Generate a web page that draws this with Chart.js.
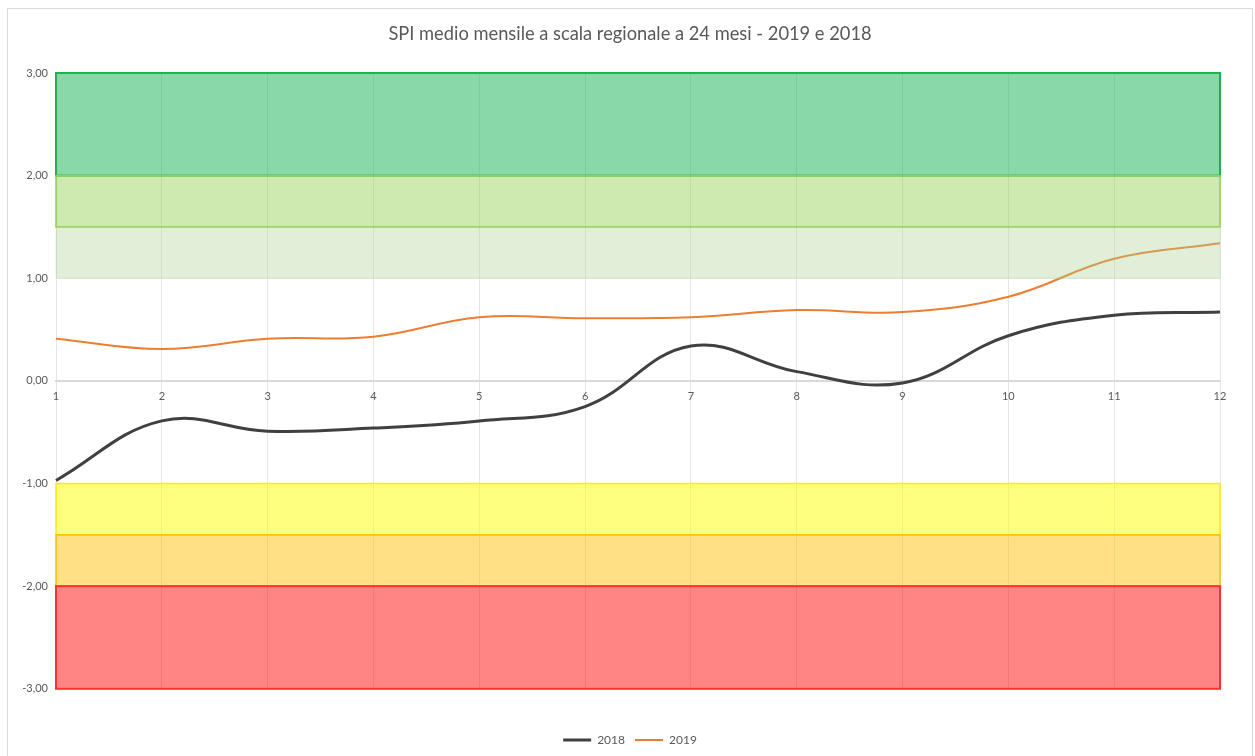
<!DOCTYPE html>
<html>
<head>
<meta charset="utf-8">
<script src="https://cdn.jsdelivr.net/npm/chart.js@4.4.0/dist/chart.umd.min.js"></script>
<style>
    body { margin: 0; background: #fff; }
    #quadro { position: absolute; left: 7px; top: 8px; width: 1244px; height: 760px; border: 1px solid #d9d9d9; }
    canvas { display: block; }
</style>
</head>
<body>
<div id="quadro"><canvas id="grafico-spi" width="1244" height="747"></canvas></div>
<script>
const mesi = ['1', '2', '3', '4', '5', '6', '7', '8', '9', '10', '11', '12'];
const spi2018 = [-0.97, -0.39, -0.49, -0.46, -0.39, -0.25, 0.34, 0.09, -0.02, 0.44, 0.64, 0.67];
const spi2019 = [0.41, 0.31, 0.41, 0.43, 0.62, 0.61, 0.62, 0.69, 0.67, 0.82, 1.19, 1.34];
const tickY = [-3, -2, -1, 0, 1, 2, 3];

// fasce di severità (da / a)
const fasceDa = [2, 1.5, 1, -1.5, -2, -3];
const fasceA = [3, 2, 1.5, -1, -1.5, -2];
const fasceColori = ['rgba(17,178,83,0.5)', 'rgba(146,208,80,0.45)', 'rgba(169,208,142,0.35)',
    'rgba(255,255,0,0.5)', 'rgba(255,192,0,0.48)', 'rgba(255,0,0,0.48)'];
const fasceBordi = ['#22b04e', '#92d050', 'rgba(169,208,142,0.3)', '#ffee00', '#ffc000', '#ff3030'];
const fasceSpessori = [2, 1.5, 1, 1.5, 1.5, 2];

const pluginFasce = {
    id: 'fasce',
    afterDatasetsDraw(chart) {
        const ctx = chart.ctx;
        const x = chart.scales.x;
        const y = chart.scales.y;
        const sx = x.getPixelForValue(0);
        const dx = x.getPixelForValue(mesi.length - 1);
        ctx.save();
        fasceDa.forEach((da, i) => {
            const top = y.getPixelForValue(fasceA[i]);
            const bot = y.getPixelForValue(da);
            ctx.fillStyle = fasceColori[i];
            ctx.fillRect(sx, top, dx - sx, bot - top);
            ctx.strokeStyle = fasceBordi[i];
            ctx.lineWidth = fasceSpessori[i];
            ctx.strokeRect(sx, top, dx - sx, bot - top);
        });
        ctx.restore();
    }
};

const ctx = document.getElementById('grafico-spi').getContext('2d');
const grafico = new Chart(ctx, {
    type: 'line',
    data: {
        labels: mesi,
        datasets: [{
            label: '2018',
            data: spi2018,
            borderColor: '#404040',
            borderWidth: 3,
            pointRadius: 0,
            tension: 0.4,
            fill: false
        }, {
            label: '2019',
            data: spi2019,
            borderColor: '#ed7d31',
            borderWidth: 2,
            pointRadius: 0,
            tension: 0.4,
            fill: false
        }]
    },
    options: {
        responsive: false,
        animation: false,
        layout: { padding: 0 },
        plugins: {
            title: {
                display: true,
                text: 'SPI medio mensile a scala regionale a 24 mesi - 2019 e 2018',
                color: '#595959',
                font: { family: 'Lato', size: 18.3, weight: 'normal' },
                padding: { top: 14, bottom: 28 }
            },
            legend: {
                position: 'bottom',
                title: {
                    display: true,
                    text: ' ',
                    font: { size: 11 },
                    padding: { top: 0, bottom: 22 }
                },
                labels: {
                    usePointStyle: true,
                    pointStyle: 'line',
                    pointStyleWidth: 28,
                    color: '#595959',
                    font: { family: 'Lato', size: 12 },
                    padding: 10
                }
            },
            tooltip: { enabled: false }
        },
        scales: {
            x: {
                position: { y: 0 },
                grid: { color: '#e6e6e6', drawTicks: false },
                border: { color: '#d9d9d9', width: 2 },
                ticks: {
                    color: '#595959',
                    font: { family: 'Lato', size: 11 },
                    padding: 9,
                    maxRotation: 0
                }
            },
            y: {
                min: -3,
                max: 3,
                afterBuildTicks: scale => { scale.ticks = tickY.map(v => ({ value: v })); },
                afterFit: scale => { scale.width = 48; },
                grid: { color: '#efefef', drawTicks: false },
                border: { display: false },
                ticks: {
                    color: '#595959',
                    font: { family: 'Lato', size: 11 },
                    padding: 8,
                    callback: v => v.toFixed(2).replace('.', ',')
                }
            },
            margineDx: {
                type: 'linear',
                position: 'right',
                min: -3,
                max: 3,
                afterFit: scale => { scale.width = 32; },
                grid: { display: false },
                border: { display: false },
                ticks: { display: false }
            }
        }
    },
    plugins: [pluginFasce]
});
</script>
</body>
</html>
